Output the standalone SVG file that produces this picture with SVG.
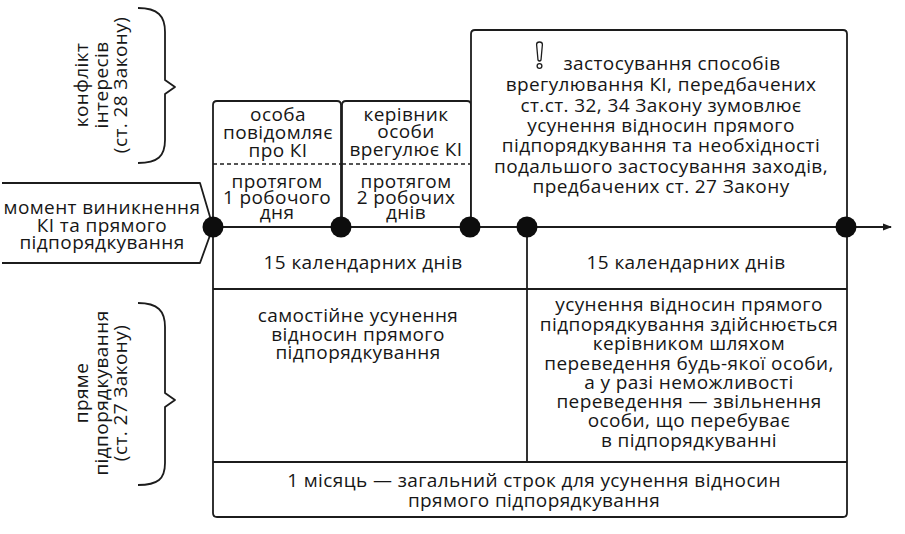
<svg xmlns="http://www.w3.org/2000/svg" width="905" height="534" viewBox="0 0 905 534">
<style>
.ln{fill:none;stroke:#1c1c1c;stroke-width:1.8;stroke-linejoin:round}
.bx{fill:#fff;stroke:#1c1c1c;stroke-width:1.8}
.t{font-family:"Open Sans","Noto Sans","DejaVu Sans",sans-serif;font-size:19px;letter-spacing:0.4px;fill:#161616;text-anchor:middle}
.dot{fill:#0d0d0d}
.dash{fill:none;stroke:#1c1c1c;stroke-width:1.3;stroke-dasharray:4 3}
</style>
<defs>
<marker id="arr" markerWidth="9" markerHeight="8" refX="8" refY="4" orient="auto" markerUnits="userSpaceOnUse"><path d="M0,0.5 L9,4 L0,7.5 z" fill="#1c1c1c"/></marker>
</defs>
<rect width="905" height="534" fill="#fff"/>

<g id="brace-conflict">
<path class="ln" d="M138,8 C158,8 165,16 165,32 L165,80 L175,87 L165,94 L165,140 C165,156 158,163 138,163"/>
<text class="t" transform="translate(88,85) rotate(-90)">конфлікт</text>
<text class="t" transform="translate(107.5,85) rotate(-90)">інтересів</text>
<text class="t" transform="translate(127,85) rotate(-90)">(ст. 28 Закону)</text>
</g>

<g id="brace-subordination">
<path class="ln" d="M138,303 C158,303 165,311 165,327 L165,393 L175,400 L165,407 L165,463 C165,479 158,485 138,485"/>
<text class="t" transform="translate(88,393) rotate(-90)">пряме</text>
<text class="t" transform="translate(107.5,393) rotate(-90)">підпорядкування</text>
<text class="t" transform="translate(127,393) rotate(-90)">(ст. 27 Закону)</text>
</g>

<g id="start">
<path class="ln" d="M2,183 H200 L213,227 L200,263 H2"/>
<text class="t" x="102" y="214">момент виникнення</text>
<text class="t" x="102" y="232">КІ та прямого</text>
<text class="t" x="102" y="249">підпорядкування</text>
</g>

<g id="box-notify">
<path class="bx" d="M213,227 V105 Q213,101 217,101 H337 Q341,101 341,105 V227"/>
<line class="dash" x1="213" y1="164" x2="341" y2="164"/>
<text class="t" x="278" y="121">особа</text>
<text class="t" x="278" y="139">повідомляє</text>
<text class="t" x="278" y="157">про КІ</text>
<text class="t" x="277" y="188">протягом</text>
<text class="t" x="277" y="204">1 робочого</text>
<text class="t" x="277" y="219">дня</text>
</g>

<g id="box-manager">
<path class="bx" d="M342,227 V105 Q342,101 346,101 H467 Q471,101 471,105 V227"/>
<line class="dash" x1="342" y1="164" x2="471" y2="164"/>
<text class="t" x="406" y="121">керівник</text>
<text class="t" x="406" y="138">особи</text>
<text class="t" x="406" y="156">врегулює КІ</text>
<text class="t" x="406" y="188">протягом</text>
<text class="t" x="406" y="204">2 робочих</text>
<text class="t" x="406" y="219">днів</text>
</g>

<g id="box-settlement">
<path class="bx" d="M471,227 V34 Q471,30 475,30 H843 Q847,30 847,34 V227"/>
<path class="ln" style="stroke-width:1.3" d="M536.6,44.5 Q536.6,42 539.5,42 Q542.4,42 542.4,44.5 L541,60 Q539.5,62 538,60 Z"/>
<circle class="ln" style="stroke-width:1.3" cx="539.5" cy="66" r="2.4"/>
<text class="t" x="672" y="70">застосування способів</text>
<text class="t" x="661" y="91">врегулювання КІ, передбачених</text>
<text class="t" x="661" y="112">ст.ст. 32, 34 Закону зумовлює</text>
<text class="t" x="661" y="132">усунення відносин прямого</text>
<text class="t" x="661" y="152">підпорядкування та необхідності</text>
<text class="t" x="661" y="173">подальшого застосування заходів,</text>
<text class="t" x="661" y="193">предбачених ст. 27 Закону</text>
</g>

<g id="periods">
<path class="bx" d="M213,227 H847 V513 Q847,517 843,517 H217 Q213,517 213,513 Z"/>
<line class="ln" x1="213" y1="289" x2="847" y2="289"/>
<line class="ln" x1="213" y1="462" x2="847" y2="462"/>
<line class="ln" x1="527" y1="227" x2="527" y2="462"/>
</g>

<g id="period-left">
<text class="t" x="363" y="269">15 календарних днів</text>
<text class="t" x="358" y="322">самостійне усунення</text>
<text class="t" x="358" y="341">відносин прямого</text>
<text class="t" x="358" y="359">підпорядкування</text>
</g>

<g id="period-right">
<text class="t" x="686" y="269">15 календарних днів</text>
<text class="t" x="689" y="311">усунення відносин прямого</text>
<text class="t" x="689" y="331">підпорядкування здійснюється</text>
<text class="t" x="689" y="350">керівником шляхом</text>
<text class="t" x="689" y="370">переведення будь-якої особи,</text>
<text class="t" x="689" y="389">а у разі неможливості</text>
<text class="t" x="689" y="408">переведення — звільнення</text>
<text class="t" x="689" y="427">особи, що перебуває</text>
<text class="t" x="689" y="447">в підпорядкуванні</text>
</g>

<g id="total">
<text class="t" x="534" y="487">1 місяць — загальний строк для усунення відносин</text>
<text class="t" x="534" y="507">прямого підпорядкування</text>
</g>

<g id="connectors">
<line class="ln" x1="213" y1="227" x2="891" y2="227" marker-end="url(#arr)"/>
<circle class="dot" cx="213" cy="227" r="10.5"/>
<circle class="dot" cx="341" cy="227" r="10.5"/>
<circle class="dot" cx="470" cy="227" r="10.5"/>
<circle class="dot" cx="527" cy="227" r="10.5"/>
<circle class="dot" cx="846" cy="227" r="10.5"/>
</g>
</svg>
